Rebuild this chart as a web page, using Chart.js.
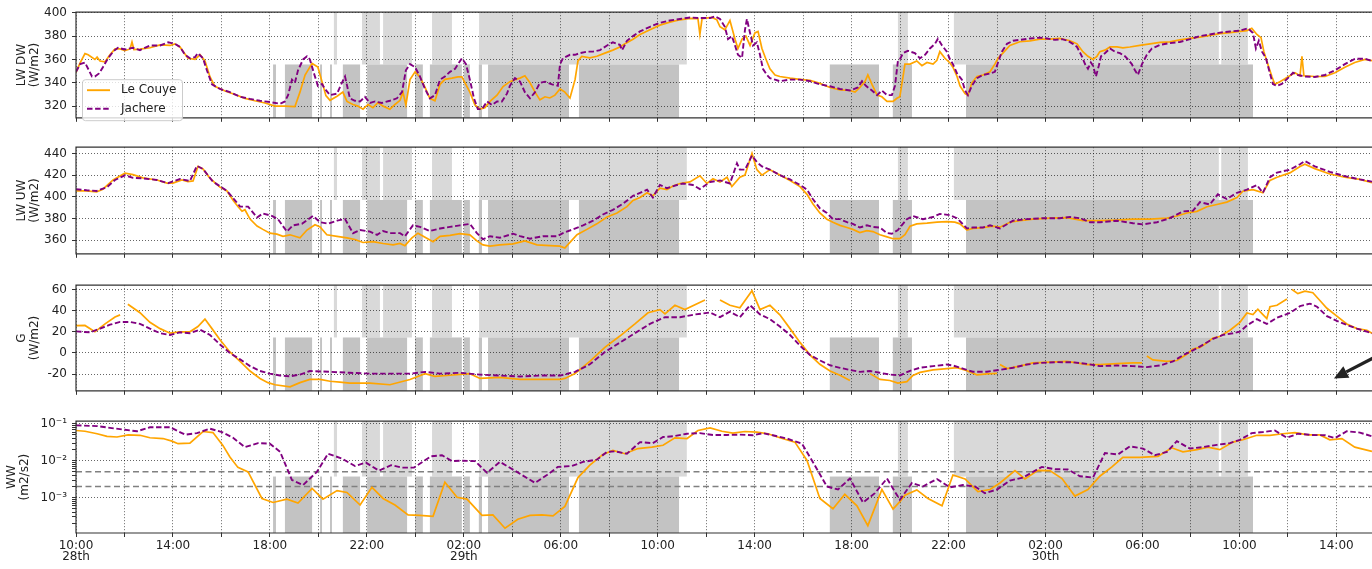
<!DOCTYPE html>
<html>
<head>
<meta charset="utf-8">
<script src="https://cdn.jsdelivr.net/npm/chart.js@4.4.1/dist/chart.umd.min.js"></script>
<style>
  html, body { margin: 0; padding: 0; background: #fff; overflow: hidden; }
  canvas { position: absolute; left: 0; }
</style>
</head>
<body>
<canvas id="lw-dw" width="1372" height="130" style="top:0px"></canvas>
<canvas id="lw-uw" width="1372" height="131" style="top:135px"></canvas>
<canvas id="g-flux" width="1372" height="130" style="top:273px"></canvas>
<canvas id="ww" width="1372" height="160" style="top:409px"></canvas>
<script>
// time axis: hours since 28th 10:00
const X_MAX = 53.47
const timeLabels = [['10:00', '28th'], '14:00', '18:00', '22:00', ['02:00', '29th'], '06:00',
  '10:00', '14:00', '18:00', '22:00', ['02:00', '30th'], '06:00', '10:00', '14:00']

// flagged periods [start, end] in hours
const lightSpans = [[10.64, 10.77], [11.8, 12.54], [12.67, 13.86], [14.69, 15.51], [16.63, 25.2],
  [33.91, 34.32], [36.22, 47.15], [47.25, 48.35]]
const darkSpans = [[8.13, 8.25], [8.62, 9.74], [10.07, 10.15], [10.48, 10.56], [11.01, 11.72],
  [12.01, 13.66], [13.99, 14.31], [14.6, 15.92], [16.0, 16.25], [16.62, 16.75], [17.0, 20.34],
  [20.75, 24.88], [31.1, 33.13], [33.7, 34.49], [36.72, 48.56]]

// LW DW (W/m2)
const lwDwCouye = [[0, 349], [0.17, 357], [0.37, 365], [0.5, 364], [0.78, 360], [0.87, 362], [0.99, 358.7],
  [1.2, 358], [1.4, 364], [1.61, 369], [1.82, 369], [2.02, 367.5], [2.23, 369], [2.31, 375], [2.39, 368.5],
  [2.64, 368.8], [3.05, 370], [3.47, 372.5], [3.88, 372], [4.08, 373.4], [4.29, 370.7], [4.62, 361],
  [4.91, 360], [5.12, 364], [5.32, 358.7], [5.53, 345], [5.73, 337], [6.15, 333], [6.56, 330], [6.97, 326.7],
  [7.38, 324.6], [7.8, 322.7], [8.21, 320], [8.62, 320], [9.03, 319.5], [9.24, 332], [9.45, 346.7],
  [9.74, 356.6], [9.98, 353.4], [10.15, 341], [10.31, 329], [10.48, 325], [10.77, 328.5], [11.01, 332],
  [11.18, 324], [11.43, 321.4], [11.63, 320], [11.84, 317.4], [12.05, 321.4], [12.25, 318.7], [12.46, 323],
  [12.67, 320], [12.95, 317.4], [13.16, 321.4], [13.37, 325], [13.49, 332], [13.61, 321], [13.78, 342.7],
  [13.99, 349.4], [14.19, 345], [14.4, 336], [14.6, 326.7], [14.81, 324.6], [15.02, 338.7], [15.22, 343],
  [15.51, 344], [15.76, 345], [15.92, 345], [16.05, 340], [16.25, 332], [16.46, 321], [16.67, 317.4],
  [16.87, 318.7], [17.08, 324], [17.37, 329.4], [17.62, 336.8], [17.9, 341], [18.11, 342.7], [18.32, 344],
  [18.52, 346], [18.73, 340], [18.94, 332], [19.14, 325.4], [19.35, 328], [19.55, 327], [19.76, 329.4],
  [19.97, 334.7], [20.17, 332], [20.38, 327], [20.59, 342.7], [20.71, 358.7], [20.87, 362.7], [21.2, 361.4],
  [21.49, 362.7], [21.82, 365.4], [22.15, 368], [22.44, 370.7], [22.65, 373.4], [22.98, 377.4],
  [23.27, 381.4], [23.68, 385.4], [24.09, 389.4], [24.5, 392], [24.92, 394], [25.33, 395.2], [25.66, 395],
  [25.74, 381.4], [25.83, 395], [26.24, 396], [26.44, 394], [26.57, 388], [26.77, 385.4], [26.98, 393.4],
  [27.19, 377.4], [27.31, 369.4], [27.48, 377.4], [27.64, 380], [27.81, 372], [28.01, 382.7], [28.14, 384],
  [28.3, 369.4], [28.47, 360], [28.63, 352], [28.84, 346.7], [29.04, 345.4], [29.46, 344], [29.87, 343],
  [30.28, 342], [30.69, 339.5], [31.11, 336], [31.52, 334], [31.93, 333.4], [32.14, 332], [32.34, 336],
  [32.55, 341], [32.67, 346.7], [32.84, 338.7], [33.05, 329.4], [33.25, 328], [33.46, 324], [33.71, 324],
  [33.87, 326.7], [33.99, 328], [34.12, 345], [34.2, 356], [34.41, 356], [34.69, 358.7], [34.9, 354.7],
  [35.11, 357.4], [35.36, 356], [35.52, 359.2], [35.64, 366.7], [35.85, 361], [36.06, 357], [36.18, 353.4],
  [36.35, 345.4], [36.47, 337.4], [36.68, 330.7], [36.8, 329.4], [36.96, 340], [37.17, 345.4],
  [37.42, 346.7], [37.71, 349.4], [37.91, 356], [38.04, 361], [38.24, 365.4], [38.53, 372], [38.94, 375.2],
  [39.36, 376], [39.77, 377.4], [40.18, 377.4], [40.59, 378], [41.01, 376], [41.3, 373.4], [41.54, 366.7],
  [41.75, 362.7], [41.96, 360], [42.12, 362.7], [42.24, 366.7], [42.45, 368], [42.66, 370.7], [42.95, 370.7],
  [43.19, 370], [43.48, 370.7], [43.89, 372], [44.31, 373.4], [44.72, 374.7], [45.13, 375], [45.54, 376.8],
  [45.96, 378], [46.37, 379.2], [46.78, 380.6], [47.19, 382.2], [47.61, 383], [48.02, 384], [48.31, 384.7],
  [48.51, 386.7], [48.72, 381.4], [48.89, 378.7], [49.01, 366.7], [49.17, 356], [49.34, 345.4],
  [49.46, 338.7], [49.67, 341], [49.88, 343.4], [50.08, 346], [50.29, 348.6], [50.5, 346], [50.58, 362.7],
  [50.66, 346], [51.11, 345.4], [51.53, 345.4], [51.94, 348.6], [52.35, 353.4], [52.76, 357.4],
  [53.18, 360], [53.47, 359]]
const lwDwJachere = [[0, 349.4], [0.17, 356], [0.37, 357.4], [0.5, 352], [0.66, 345.4], [0.78, 345.4],
  [0.95, 348], [1.11, 353.4], [1.32, 361], [1.53, 366.7], [1.73, 370], [2.02, 368.6], [2.35, 370],
  [2.64, 368], [3.05, 372], [3.47, 372], [3.8, 374.7], [4.08, 373.4], [4.29, 370.7], [4.5, 364], [4.7, 361],
  [4.91, 362], [5.03, 365.4], [5.24, 361], [5.4, 350.7], [5.61, 338.7], [5.94, 334.7], [6.35, 332],
  [6.77, 328], [7.18, 326.2], [7.59, 324.6], [8.0, 323.5], [8.42, 322], [8.62, 324], [8.75, 329.4],
  [8.91, 342.7], [9.03, 340], [9.16, 350.7], [9.37, 360], [9.53, 362.7], [9.65, 360], [9.82, 348],
  [9.98, 337.4], [10.15, 339], [10.27, 334.7], [10.48, 329.4], [10.77, 330.7], [10.97, 340], [11.1, 345.4],
  [11.3, 326.7], [11.51, 324.6], [11.72, 324], [11.92, 328], [12.13, 322.7], [12.34, 324], [12.62, 322.7],
  [12.95, 324.6], [13.24, 326.7], [13.45, 332], [13.61, 350.7], [13.78, 356], [13.99, 353.4],
  [14.19, 345.4], [14.4, 334.7], [14.6, 326.7], [14.81, 329.4], [15.02, 342.7], [15.22, 345.4],
  [15.43, 349.4], [15.64, 352], [15.76, 356], [15.92, 361], [16.09, 356], [16.25, 342.7], [16.42, 326.7],
  [16.58, 317.4], [16.75, 317.4], [16.96, 324], [17.16, 321], [17.37, 324], [17.57, 324], [17.78, 330.7],
  [17.9, 337.4], [18.11, 344], [18.32, 341], [18.52, 332], [18.73, 326.7], [18.94, 332], [19.14, 340],
  [19.35, 341], [19.64, 338.7], [19.88, 337.4], [19.97, 356], [20.09, 361], [20.38, 364], [20.59, 364],
  [20.79, 365.4], [21.08, 366.7], [21.33, 366.7], [21.62, 368], [21.91, 372], [22.15, 374.7],
  [22.44, 372.5], [22.53, 368], [22.73, 376], [22.98, 380], [23.27, 384], [23.68, 388], [24.09, 391.4],
  [24.5, 393.4], [24.92, 394.7], [25.33, 396], [25.74, 395.5], [26.16, 395.5], [26.36, 397], [26.57, 394.7],
  [26.77, 388], [26.9, 377.4], [27.06, 380], [27.19, 372], [27.31, 364], [27.48, 361.4], [27.6, 385.4],
  [27.68, 394.7], [27.81, 382.7], [27.93, 372], [28.09, 374.7], [28.22, 364], [28.34, 352], [28.51, 346.7],
  [28.63, 344], [28.84, 342.7], [29.04, 341.4], [29.46, 342.7], [29.87, 342.7], [30.28, 341.4],
  [30.69, 338.7], [31.11, 337], [31.52, 334.7], [31.93, 333.4], [32.26, 336], [32.43, 341.4],
  [32.59, 337.4], [32.84, 333.4], [33.05, 329.4], [33.25, 333.4], [33.46, 329.4], [33.66, 329.4],
  [33.79, 337.4], [33.91, 358.7], [33.99, 360], [34.12, 365.4], [34.32, 367.4], [34.61, 365.4], [34.82, 361],
  [35.03, 364], [35.23, 369.4], [35.44, 373.4], [35.56, 377.8], [35.73, 372], [35.93, 366.7], [36.06, 360],
  [36.18, 356], [36.35, 348], [36.55, 342.7], [36.68, 333.4], [36.8, 329.4], [36.96, 337.4], [37.17, 344],
  [37.42, 346.7], [37.71, 348], [37.91, 349.4], [38.04, 357.4], [38.2, 366.7], [38.41, 373.4], [38.66, 376],
  [38.94, 376.8], [39.36, 378], [39.77, 378.7], [40.06, 378], [40.39, 376.8], [40.68, 377.4], [40.92, 376],
  [41.13, 373.4], [41.3, 370.7], [41.5, 362.7], [41.63, 356], [41.75, 352], [41.87, 357.4], [41.96, 354.7],
  [42.08, 345.4], [42.2, 354.7], [42.29, 362.7], [42.45, 365.4], [42.66, 369.4], [42.86, 366.7],
  [43.07, 365.4], [43.28, 362.7], [43.4, 360], [43.56, 356], [43.69, 350.7], [43.81, 346.7], [43.98, 356],
  [44.18, 364], [44.39, 369.4], [44.72, 372.5], [45.13, 374], [45.54, 375], [45.96, 377.4], [46.37, 380],
  [46.78, 381.4], [47.19, 383], [47.61, 384], [48.02, 384.7], [48.35, 386.7], [48.56, 382.7], [48.68, 369.4],
  [48.8, 376], [48.93, 366.7], [49.09, 361.4], [49.26, 348], [49.38, 339], [49.55, 337.4], [49.75, 339],
  [50.0, 344], [50.21, 348.6], [50.41, 346.7], [50.7, 345.4], [51.11, 345], [51.53, 346.7], [51.94, 350.7],
  [52.35, 356], [52.76, 360.5], [53.18, 360.7], [53.47, 358.7]]

// LW UW (W/m2)
const lwUwCouye = [[0, 405.4], [0.44, 405.4], [0.85, 404.6], [1.11, 407], [1.53, 415.5], [2.02, 421.8],
  [2.35, 420.4], [2.76, 417.5], [3.34, 415.5], [3.75, 412.6], [4.0, 412.6], [4.37, 415.5], [4.62, 414],
  [4.83, 414.6], [5.03, 427.9], [5.24, 425.6], [5.53, 417], [5.94, 408.9], [6.23, 405.4], [6.48, 396.8],
  [6.68, 391], [6.85, 386.7], [6.97, 388.1], [7.18, 379.5], [7.47, 373.1], [7.71, 370], [8.0, 366.5],
  [8.29, 365.6], [8.54, 363.6], [8.83, 365], [9.24, 362.2], [9.53, 369.4], [9.86, 374.3], [10.07, 372.3],
  [10.35, 365], [10.77, 363.6], [11.18, 362.2], [11.51, 360.7], [11.84, 357.9], [12.25, 358.7], [12.67, 357],
  [13.08, 355.8], [13.37, 357], [13.57, 355], [13.86, 362.2], [14.11, 366.5], [14.4, 362.8], [14.73, 358.7],
  [15.02, 363.6], [15.43, 364.5], [15.84, 366], [16.25, 365], [16.54, 359.4], [16.79, 355.7],
  [17.08, 354.6], [17.49, 355.7], [18.03, 356.6], [18.52, 359.4], [19.02, 355.7], [19.55, 355.1],
  [19.97, 354.6], [20.17, 352.9], [20.38, 358], [20.67, 365.1], [21.08, 370], [21.49, 375.1], [21.91, 381.4],
  [22.32, 385.1], [22.73, 390.9], [22.98, 396.6], [23.27, 399.4], [23.56, 403.7], [23.8, 400.9], [24.09, 408],
  [24.38, 406.6], [24.63, 410], [24.92, 412.3], [25.33, 413.7], [25.74, 419.4], [26.03, 412.3],
  [26.28, 416.6], [26.57, 413.7], [26.86, 418], [27.06, 409.4], [27.39, 418], [27.6, 420], [27.89, 440],
  [28.09, 425], [28.3, 420], [28.63, 425], [29.04, 420], [29.46, 415], [29.87, 409.4], [30.16, 402.3],
  [30.4, 393.7], [30.69, 385.1], [30.98, 379.4], [31.23, 376.6], [31.52, 373.7], [31.81, 371.7], [32.05, 370],
  [32.34, 367.1], [32.63, 368.9], [32.88, 368], [33.17, 365.1], [33.46, 363.1], [33.71, 361.4],
  [33.99, 361.4], [34.2, 365.1], [34.41, 372.9], [34.69, 375.1], [35.11, 375.7], [35.52, 376.6],
  [35.93, 377.1], [36.26, 376.6], [36.47, 375.1], [36.76, 369.4], [37.0, 370.9], [37.42, 371.7],
  [37.83, 372.9], [38.12, 372], [38.53, 376.6], [38.94, 378], [39.48, 379.4], [40.18, 380.3], [40.88, 380.9],
  [41.54, 378], [42.24, 378], [42.95, 378.6], [43.61, 379.4], [44.31, 379.4], [45.01, 380.3], [45.42, 382.3],
  [45.83, 385.1], [46.25, 386.6], [46.66, 390.9], [47.07, 392.9], [47.48, 395.1], [47.9, 399.4],
  [48.14, 405.1], [48.56, 406.6], [48.97, 403.7], [49.26, 415.1], [49.55, 418], [50.08, 422], [50.5, 428],
  [50.7, 430], [51.11, 426], [51.73, 421], [52.35, 418], [52.97, 416], [53.47, 413]]
const lwUwJachere = [[0, 406.9], [0.44, 406], [0.85, 405.4], [1.28, 408.9], [1.61, 415.5], [2.02, 419.8],
  [2.35, 417.5], [2.76, 417], [3.34, 415.5], [3.8, 412.6], [4.29, 416.4], [4.7, 414.6], [4.99, 428.5],
  [5.24, 425.6], [5.65, 414], [6.23, 405.4], [6.56, 396.8], [6.77, 391], [7.1, 391], [7.47, 380.9],
  [7.71, 384.7], [8.08, 382.4], [8.33, 379.5], [8.7, 368], [8.95, 373.7], [9.32, 375.2], [9.78, 382.4],
  [10.07, 376.6], [10.4, 375.2], [10.77, 378], [11.1, 379.5], [11.43, 366.5], [11.72, 369.4], [12.13, 368],
  [12.42, 365], [12.67, 368.5], [12.95, 366.5], [13.37, 366.5], [13.57, 363.6], [13.9, 373.7],
  [14.19, 372.3], [14.6, 368.5], [15.02, 370.8], [15.43, 372.3], [15.84, 373.7], [16.25, 375], [16.54, 366.6],
  [16.79, 360.9], [17.08, 363.7], [17.49, 362.3], [18.03, 366], [18.32, 363.7], [18.73, 361.4],
  [19.27, 363.7], [19.84, 363.7], [20.09, 366.6], [20.5, 370], [20.92, 373.7], [21.33, 378], [21.74, 383.7],
  [22.15, 388], [22.57, 393.7], [22.98, 400.9], [23.27, 403.7], [23.56, 406.6], [23.8, 399.4],
  [24.09, 410.9], [24.38, 408], [24.79, 410.9], [25.04, 412.3], [25.45, 410.9], [25.74, 407.1],
  [26.16, 413.7], [26.57, 415.1], [26.98, 412.3], [27.27, 430.9], [27.39, 425.1], [27.6, 425], [27.89, 438],
  [28.09, 432], [28.3, 428], [28.63, 425], [29.04, 420], [29.46, 416], [29.87, 410.9], [30.16, 406.6],
  [30.4, 398], [30.69, 389.4], [30.98, 385.1], [31.23, 379.4], [31.52, 379.4], [31.81, 376.6],
  [32.05, 375.1], [32.34, 371.7], [32.63, 373.7], [32.88, 372.3], [33.17, 371.7], [33.46, 366.6],
  [33.66, 366], [33.91, 369.4], [34.28, 379.4], [34.53, 382.3], [34.94, 379.4], [35.36, 381.4],
  [35.64, 384.3], [36.06, 383.1], [36.35, 380.3], [36.76, 370.9], [37.0, 371.7], [37.42, 371.7],
  [37.71, 373.7], [38.12, 370.9], [38.66, 378], [39.23, 379.4], [39.89, 380.3], [40.59, 380.3],
  [41.01, 381.4], [41.42, 380.3], [41.83, 376.6], [42.24, 376.6], [42.95, 378], [43.61, 375.7],
  [44.02, 374.6], [44.6, 376.6], [45.13, 380.3], [45.67, 386.6], [46.08, 387.1], [46.37, 395.1],
  [46.78, 392.9], [47.11, 402.3], [47.48, 398], [47.9, 403.7], [48.31, 406.6], [48.72, 410.9],
  [48.97, 403.7], [49.26, 418], [49.55, 422.3], [50.08, 425], [50.5, 430], [50.7, 433], [51.11, 428],
  [51.73, 423], [52.35, 419], [52.97, 416], [53.47, 414]]

// G (W/m2), null = missing
const gCouye = [[0, 25.8], [0.37, 26], [0.78, 20], [1.2, 27.5], [1.61, 34], [1.82, 36], [2.0, null],
  [2.14, 46], [2.64, 38], [3.05, 29], [3.47, 23], [3.88, 18.7], [4.29, 20], [4.7, 20], [5.03, 25], [5.32, 32],
  [5.61, 23], [5.94, 12.4], [6.35, 1], [6.77, -8], [7.18, -17], [7.59, -24], [7.92, -28], [8.21, -30],
  [8.83, -32], [9.24, -28], [9.65, -25], [10.07, -25], [10.48, -26.7], [10.89, -27.6], [11.3, -28.4],
  [12.13, -28.4], [12.95, -30], [13.78, -25], [14.4, -19.6], [14.81, -22], [15.43, -21], [16.25, -19.5],
  [16.67, -24], [17.49, -23], [18.32, -25], [19.14, -25], [19.97, -25], [20.17, -24], [20.59, -19.5],
  [21.2, -8], [21.82, 5.3], [22.44, 16], [23.06, 27.5], [23.6, 38], [24.09, 41], [24.3, 37], [24.71, 45],
  [25.12, 41], [25.95, 50], [26.2, null], [26.57, 50], [26.98, 45], [27.39, 42.7], [27.89, 58.7],
  [28.22, 41], [28.63, 45], [29.04, 36], [29.46, 23], [29.87, 10], [30.28, -1.8], [30.69, -10.7],
  [31.11, -17], [31.52, -21], [31.93, -26], [32.2, null], [32.76, -19.5], [33.17, -25], [33.58, -26],
  [33.91, -28.4], [34.28, -27.1], [34.53, -21.2], [34.82, -18.3], [35.36, -15.9], [35.93, -14.7],
  [36.35, -13.9], [36.76, -16.8], [37.17, -20.6], [37.58, -19.8], [38.0, -19.2], [38.05, null],
  [38.12, -10.9], [38.41, -14.7], [38.94, -12.4], [39.48, -9.4], [40.18, -8.6], [40.88, -8], [41.3, -9.4],
  [41.71, -10.9], [42.24, -10.9], [42.95, -10], [43.61, -9.4], [43.98, -9.4], [44.1, null], [44.18, -2.9],
  [44.43, -6.5], [45.01, -8], [45.42, -7.1], [45.83, -1.2], [46.08, 3.8], [46.37, 5.3], [46.66, 9.7],
  [46.91, 14.2], [47.19, 15.6], [47.61, 21.5], [48.02, 28.9], [48.31, 37.8], [48.56, 36.3], [48.76, 41.3],
  [48.97, 36.3], [49.13, 32.4], [49.26, 43.7], [49.55, 45.1], [49.96, 51], [50.05, null], [50.17, 59.9],
  [50.41, 56], [50.7, 58.4], [51.03, 56.9], [51.32, 49.6], [51.61, 42.2], [52.02, 34.8], [52.43, 27.4],
  [52.85, 23], [53.26, 21.5], [53.47, 18.6]]
const gJachere = [[0, 20.4], [0.58, 19.5], [0.99, 23], [1.4, 26.7], [1.82, 29.3], [2.23, 29.3], [2.64, 27.5],
  [3.05, 23], [3.47, 18.7], [3.88, 17], [4.29, 19.5], [4.7, 18.7], [5.12, 22], [5.53, 17], [5.94, 8],
  [6.35, 0], [6.77, -6], [7.18, -12.4], [7.59, -17], [8.0, -19.5], [8.42, -21.3], [8.83, -22], [9.24, -20.4],
  [9.65, -17], [10.48, -17.8], [11.3, -18.7], [12.13, -19.5], [12.95, -19.5], [13.78, -19.5], [14.4, -17.8],
  [15.02, -19.5], [15.84, -18.7], [16.67, -20.4], [17.49, -21.3], [18.32, -22.2], [19.14, -21.3],
  [19.97, -21.3], [20.59, -17.8], [21.2, -10.7], [21.82, 0.9], [22.44, 9.8], [23.06, 18.7], [23.68, 27.5],
  [24.3, 33.8], [24.92, 33.8], [25.54, 36.4], [26.16, 38.2], [26.57, 33.8], [26.98, 39], [27.39, 33.8],
  [27.81, 45], [28.22, 36.4], [28.63, 32], [29.04, 24.9], [29.46, 17], [29.87, 7], [30.28, -1.8], [30.69, -7],
  [31.11, -11.6], [31.52, -14], [31.93, -16], [32.34, -17.8], [32.76, -17], [33.17, -18.7], [33.58, -20.4],
  [33.99, -21.2], [34.41, -16.8], [34.82, -13.9], [35.36, -12.4], [35.93, -10.9], [36.18, -11.8],
  [36.59, -14.7], [37.0, -17.7], [37.58, -17.7], [38.12, -15.9], [38.66, -13.9], [39.23, -10.9],
  [39.77, -9.4], [40.47, -8.6], [41.13, -8.8], [41.71, -10.3], [42.24, -12.4], [42.95, -11.8],
  [43.61, -12.4], [44.18, -13.3], [44.72, -11.8], [45.26, -8], [45.67, -2.1], [46.08, 2.4], [46.49, 7.7],
  [46.91, 13.3], [47.32, 17.1], [47.73, 18.6], [48.02, 20.1], [48.31, 26], [48.72, 31.9], [49.13, 27.4],
  [49.55, 33.3], [50.08, 37.8], [50.5, 44.2], [50.91, 46.6], [51.2, 43.7], [51.61, 34.8], [52.02, 30.4],
  [52.43, 26.5], [52.85, 23], [53.26, 20.1], [53.47, 18.6]]

// WW (m2/s2)
const wwCouye = [[0, 0.066], [0.37, 0.063], [0.87, 0.054], [1.28, 0.046], [1.69, 0.044], [2.15, 0.05],
  [2.64, 0.049], [3.05, 0.042], [3.59, 0.04], [3.96, 0.034], [4.21, 0.029], [4.7, 0.03], [5.24, 0.062],
  [5.65, 0.058], [6.06, 0.026], [6.35, 0.0126], [6.68, 0.0066], [7.1, 0.005], [7.67, 0.00095],
  [8.13, 0.00074], [8.7, 0.00091], [9.16, 0.00071], [9.74, 0.00178], [10.19, 0.00091], [10.77, 0.00155],
  [11.18, 0.00138], [11.72, 0.00063], [12.21, 0.0019], [12.67, 0.00095], [13.16, 0.00063], [13.7, 0.00034],
  [14.19, 0.00033], [14.73, 0.00031], [15.22, 0.0026], [15.72, 0.00102], [16.13, 0.00091], [16.75, 0.00033],
  [17.2, 0.00034], [17.7, 0.000148], [18.23, 0.00026], [18.73, 0.00033], [19.22, 0.00034], [19.68, 0.00032],
  [20.17, 0.00058], [20.71, 0.0035], [21.2, 0.0076], [21.74, 0.0148], [22.15, 0.019], [22.65, 0.0155],
  [23.18, 0.0214], [23.76, 0.0234], [24.22, 0.0263], [24.71, 0.0417], [25.21, 0.04], [25.66, 0.066],
  [26.16, 0.078], [26.65, 0.063], [27.1, 0.056], [27.6, 0.062], [28.09, 0.06], [28.55, 0.054],
  [29.04, 0.042], [29.66, 0.032], [30.16, 0.0102], [30.69, 0.00095], [31.23, 0.0005], [31.72, 0.00123],
  [32.22, 0.0006], [32.67, 0.000174], [33.25, 0.00166], [33.71, 0.00049], [33.99, 0.00078], [34.2, 0.00117],
  [34.69, 0.00162], [35.15, 0.00095], [35.73, 0.0006], [36.18, 0.0041], [36.68, 0.0032], [37.21, 0.00145],
  [37.71, 0.00166], [38.12, 0.0025], [38.74, 0.0054], [39.15, 0.0032], [39.69, 0.0055], [40.18, 0.0054],
  [40.68, 0.0033], [41.21, 0.0011], [41.75, 0.00166], [42.24, 0.0038], [42.74, 0.0068], [43.19, 0.0123],
  [43.89, 0.0123], [44.64, 0.0132], [45.21, 0.0224], [45.67, 0.0174], [46.25, 0.02], [46.7, 0.0234],
  [47.19, 0.02], [47.73, 0.032], [48.14, 0.037], [48.72, 0.049], [49.26, 0.049], [49.79, 0.054],
  [50.29, 0.058], [50.83, 0.05], [51.32, 0.05], [51.73, 0.037], [52.23, 0.04], [52.76, 0.0234],
  [53.47, 0.018]]
const wwJachere = [[0, 0.091], [0.87, 0.087], [1.4, 0.078], [2.02, 0.069], [2.52, 0.063], [3.05, 0.081],
  [3.88, 0.081], [4.5, 0.051], [4.99, 0.056], [5.53, 0.074], [6.02, 0.06], [6.48, 0.042], [6.97, 0.0234],
  [7.51, 0.03], [8.0, 0.029], [8.42, 0.0174], [8.91, 0.003], [9.37, 0.0022], [9.94, 0.005], [10.4, 0.0155],
  [10.97, 0.0115], [11.51, 0.0072], [11.96, 0.0089], [12.5, 0.0054], [13.0, 0.0076], [13.45, 0.0065],
  [13.94, 0.0065], [14.65, 0.0132], [15.1, 0.0141], [15.51, 0.0098], [15.92, 0.01], [16.46, 0.0098],
  [16.96, 0.0047], [17.49, 0.0093], [18.19, 0.005], [18.94, 0.0025], [19.43, 0.0041], [19.88, 0.0068],
  [20.46, 0.0072], [20.92, 0.0093], [21.49, 0.0107], [21.91, 0.0174], [22.24, 0.018], [22.73, 0.0155],
  [23.27, 0.032], [23.8, 0.03], [24.22, 0.044], [24.63, 0.046], [25.21, 0.054], [25.74, 0.056],
  [26.28, 0.05], [26.86, 0.05], [27.39, 0.051], [27.93, 0.049], [28.34, 0.056], [28.75, 0.049],
  [29.33, 0.04], [29.95, 0.029], [30.4, 0.0093], [30.98, 0.002], [31.44, 0.00166], [31.93, 0.0033],
  [32.47, 0.00074], [32.96, 0.00132], [33.46, 0.0033], [33.99, 0.00087], [34.49, 0.0025], [34.94, 0.002],
  [35.52, 0.0032], [36.06, 0.0019], [36.59, 0.0022], [37.09, 0.002], [37.5, 0.00132], [38.0, 0.00166],
  [38.53, 0.0029], [39.07, 0.0035], [39.85, 0.0068], [40.39, 0.0059], [40.92, 0.0058], [41.42, 0.0038],
  [41.96, 0.0035], [42.45, 0.0162], [42.99, 0.0148], [43.48, 0.0245], [44.02, 0.0214], [44.51, 0.0141],
  [45.01, 0.0174], [45.42, 0.034], [45.96, 0.0214], [46.49, 0.0234], [47.07, 0.027], [47.61, 0.03],
  [48.02, 0.037], [48.51, 0.056], [48.97, 0.06], [49.46, 0.066], [49.96, 0.042], [50.41, 0.054],
  [50.99, 0.05], [51.53, 0.049], [51.94, 0.041], [52.43, 0.063], [52.97, 0.058], [53.47, 0.046]]
const wwThresholds = [0.005, 0.002]

// tick values
const lwDwTicks = [320, 340, 360, 380, 400]
const lwUwTicks = [360, 380, 400, 420, 440]
const gTicks = [-20, 0, 20, 40, 60]
const supers = { '-1': '10\u207B\u00B9', '-2': '10\u207B\u00B2', '-3': '10\u207B\u00B3', '-4': '10\u207B\u2074' }

const ORANGE = '#FFA500'
const PURPLE = '#800080'
const GRID = 'rgba(0,0,0,0.6)'
const TEXT = '#222'
const DASH = [5.5, 2.6]

Chart.defaults.font.family = 'DejaVu Sans'
Chart.defaults.font.size = 12
Chart.defaults.color = TEXT

const isDecade = v => Math.abs(Math.log10(v) - Math.round(Math.log10(v))) < 1e-6

// gray flag bands (upper half light, lower half dark), under the grid
const flagBands = {
  id: 'flagBands',
  beforeDraw(chart) {
    const { ctx, chartArea: a, scales: { x } } = chart
    const mid = a.bottom - (a.bottom - a.top) * 0.505
    const fill = (spans, color, y0, y1) => {
      ctx.fillStyle = color
      spans.forEach(([s, e]) => {
        const x0 = Math.max(a.left, x.getPixelForValue(s))
        const x1 = Math.min(a.right, x.getPixelForValue(e))
        if (x1 > x0) ctx.fillRect(x0, y0, x1 - x0, y1 - y0)
      })
    }
    ctx.save()
    fill(lightSpans, '#d9d9d9', a.top, mid)
    fill(darkSpans, '#c3c3c3', mid, a.bottom)
    ctx.restore()
  },
}

// axes frame: left, top, bottom (right edge is off the picture)
const frame = {
  id: 'frame',
  afterDraw(chart) {
    const { ctx, chartArea: a } = chart
    ctx.save()
    ctx.strokeStyle = '#333'
    ctx.lineWidth = 1.2
    ctx.beginPath()
    ctx.moveTo(chart.width, a.top); ctx.lineTo(a.left, a.top)
    ctx.lineTo(a.left, a.bottom); ctx.lineTo(chart.width, a.bottom)
    ctx.stroke()
    ctx.restore()
  },
}

const legendBox = {
  id: 'legendBox',
  afterDraw(chart) {
    const { ctx, chartArea: a } = chart
    const bx = a.left + 6, by = a.top + 67, bw = 100, bh = 41
    ctx.save()
    ctx.fillStyle = 'rgba(255,255,255,0.8)'
    ctx.strokeStyle = '#cccccc'
    ctx.lineWidth = 1
    ctx.beginPath()
    ctx.roundRect(bx + 0.5, by + 0.5, bw, bh, 3)
    ctx.fill(); ctx.stroke()
    const items = [['Le Couye', ORANGE, []], ['Jachere', PURPLE, DASH]]
    items.forEach(([label, color, dash], i) => {
      const y = by + 11 + i * 18.5
      ctx.strokeStyle = color
      ctx.lineWidth = 1.9
      ctx.setLineDash(dash)
      ctx.beginPath(); ctx.moveTo(bx + 5, y); ctx.lineTo(bx + 28, y); ctx.stroke()
      ctx.setLineDash([])
      ctx.fillStyle = TEXT
      ctx.font = '12px "DejaVu Sans"'
      ctx.textBaseline = 'middle'
      ctx.fillText(label, bx + 39, y)
    })
    ctx.restore()
  },
}

const pointer = {
  id: 'pointer',
  afterDraw(chart) {
    const { ctx, scales: { x, y } } = chart
    const tx = x.getPixelForValue(51.9), ty = y.getPixelForValue(-24)
    const dx = -0.885, dy = 0.466
    const bx = tx - 14 * dx, by = ty - 14 * dy
    ctx.save()
    ctx.strokeStyle = '#222'; ctx.fillStyle = '#222'
    ctx.lineWidth = 3.2
    ctx.beginPath(); ctx.moveTo(chart.width + 5, ty - 48 * dy); ctx.lineTo(bx, by); ctx.stroke()
    ctx.beginPath()
    ctx.moveTo(tx, ty)
    ctx.lineTo(bx + 6.5 * dy, by - 6.5 * dx)
    ctx.lineTo(bx - 6.5 * dy, by + 6.5 * dx)
    ctx.closePath(); ctx.fill()
    ctx.restore()
  },
}

function lineSet(label, data, color, dash, order) {
  return {
    label, data, order,
    borderColor: color, borderWidth: dash.length ? 1.9 : 1.7, borderDash: dash,
    pointRadius: 0, tension: 0, spanGaps: false, fill: false,
  }
}

function makeChart(id, cfg) {
  const hourTicks = []
  for (let h = 0; h <= 52; h += 2) hourTicks.push(h)
  const yScale = {
    type: cfg.log ? 'logarithmic' : 'linear',
    min: cfg.yMin, max: cfg.yMax,
    afterFit: s => { s.width = 76 },
    afterBuildTicks: s => { s.ticks = cfg.yTicks.map(v => ({ value: v })) },
    ticks: {
      padding: 5, autoSkip: false,
      callback: v => cfg.log ? (isDecade(v) ? supers[String(Math.round(Math.log10(v)))] : '') : String(v),
    },
    grid: {
      color: c => (!cfg.log || isDecade(c.tick.value)) ? GRID : 'rgba(0,0,0,0)',
      tickColor: '#333', tickLength: 4, lineWidth: 1,
    },
    border: { display: false, dash: [1, 2] },
    title: {
      display: true, text: cfg.title, color: TEXT,
      font: { size: 12, lineHeight: 1.1 },
      padding: { top: cfg.titlePad, bottom: 0 },
    },
  }
  const xScale = {
    type: 'linear', min: 0, max: X_MAX,
    afterFit: s => { s.height = cfg.xHeight },
    afterBuildTicks: s => { s.ticks = hourTicks.map(v => ({ value: v })) },
    ticks: {
      display: cfg.showX, autoSkip: false, maxRotation: 0, padding: 3,
      font: { size: 12, lineHeight: 0.95 },
      callback: v => v % 4 === 0 ? timeLabels[v / 4] : '',
    },
    grid: { color: GRID, tickColor: '#333', tickLength: 4, lineWidth: 1 },
    border: { display: false, dash: [1, 2] },
  }
  return new Chart(document.getElementById(id), {
    type: 'line',
    data: { datasets: cfg.datasets },
    options: {
      responsive: false, animation: false, devicePixelRatio: 1, events: [],
      layout: { padding: { top: cfg.top, left: 0, right: 0, bottom: 0 } },
      scales: { x: xScale, y: yScale },
      plugins: { legend: { display: false }, tooltip: { enabled: false } },
    },
    plugins: [flagBands, frame].concat(cfg.extra || []),
  })
}

makeChart('lw-dw', {
  yMin: 310, yMax: 400.5, yTicks: lwDwTicks, title: ['LW DW', '(W/m2)'], titlePad: 15,
  top: 11, xHeight: 6, showX: false, extra: [legendBox],
  datasets: [lineSet('Le Couye', lwDwCouye, ORANGE, [], 2), lineSet('Jachere', lwDwJachere, PURPLE, DASH, 1)],
})
makeChart('lw-uw', {
  yMin: 347.5, yMax: 445.7, yTicks: lwUwTicks, title: ['LW UW', '(W/m2)'], titlePad: 15,
  top: 11.7, xHeight: 6, showX: false,
  datasets: [lineSet('Le Couye', lwUwCouye, ORANGE, [], 2), lineSet('Jachere', lwUwJachere, PURPLE, DASH, 1)],
})
makeChart('g-flux', {
  yMin: -35.7, yMax: 64, yTicks: gTicks, title: ['G', '(W/m2)'], titlePad: 15,
  top: 11.3, xHeight: 6, showX: false, extra: [pointer],
  datasets: [lineSet('Le Couye', gCouye, ORANGE, [], 2), lineSet('Jachere', gJachere, PURPLE, DASH, 1)],
})

const wwTicks = []
for (let d = -4; d <= -1; d++) {
  for (let m = 1; m <= 9; m++) {
    const v = m * Math.pow(10, d)
    if (v >= 1.1e-4 && v <= 0.118) wwTicks.push(v)
  }
}
makeChart('ww', {
  log: true, yMin: 1.1e-4, yMax: 0.118, yTicks: wwTicks, title: ['WW', '(m2/s2)'], titlePad: 5,
  top: 11.7, xHeight: 36, showX: true,
  datasets: [
    lineSet('Le Couye', wwCouye, ORANGE, [], 2),
    lineSet('Jachere', wwJachere, PURPLE, DASH, 1),
  ].concat(wwThresholds.map(t => ({
    data: [[0, t], [X_MAX, t]], order: 3, borderColor: '#808080', borderWidth: 1.5,
    borderDash: [6, 3.5], pointRadius: 0, fill: false,
  }))),
})
</script>
</body>
</html>
